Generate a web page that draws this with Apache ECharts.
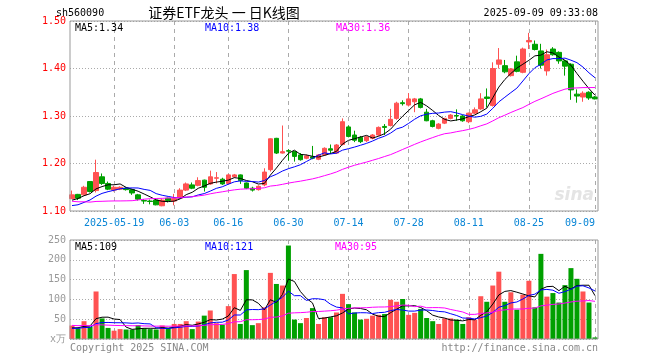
<!DOCTYPE html>
<html><head><meta charset="utf-8">
<script src="https://cdn.jsdelivr.net/npm/echarts@6/dist/echarts.min.js"></script>
<style>html,body{margin:0;padding:0;background:#fff}#c{width:660px;height:360px}</style>
</head><body><div id="c"></div>
<script>
const dates = ['2025-05-08','2025-05-09','2025-05-12','2025-05-13','2025-05-14','2025-05-15','2025-05-16','2025-05-19','2025-05-20','2025-05-21','2025-05-22','2025-05-23','2025-05-26','2025-05-27','2025-05-28','2025-05-29','2025-05-30',
'2025-06-03','2025-06-04','2025-06-05','2025-06-06','2025-06-09','2025-06-10','2025-06-11','2025-06-12','2025-06-13','2025-06-16','2025-06-17','2025-06-18','2025-06-19','2025-06-20','2025-06-23','2025-06-24','2025-06-25','2025-06-26','2025-06-27','2025-06-30',
'2025-07-01','2025-07-02','2025-07-03','2025-07-04','2025-07-07','2025-07-08','2025-07-09','2025-07-10','2025-07-11','2025-07-14','2025-07-15','2025-07-16','2025-07-17','2025-07-18','2025-07-21','2025-07-22','2025-07-23','2025-07-24','2025-07-25','2025-07-28','2025-07-29','2025-07-30','2025-07-31',
'2025-08-01','2025-08-04','2025-08-05','2025-08-06','2025-08-07','2025-08-08','2025-08-11','2025-08-12','2025-08-13','2025-08-14','2025-08-15','2025-08-18','2025-08-19','2025-08-20','2025-08-21','2025-08-22','2025-08-25','2025-08-26','2025-08-27','2025-08-28','2025-08-29',
'2025-09-01','2025-09-02','2025-09-03','2025-09-04','2025-09-05','2025-09-08','2025-09-09'];

const open  = [1.126,1.135,1.134,1.162,1.143,1.172,1.158,1.144,1.146,1.148,1.145,1.134,1.122,1.121,1.123,1.111,1.127,1.121,1.127,1.144,1.155,1.154,1.165,1.157,1.169,1.167,1.158,1.172,1.176,1.159,1.148,1.145,1.155,1.187,1.253,1.222,1.227,1.225,1.218,1.211,1.214,1.209,1.218,1.231,1.222,1.240,1.277,1.260,1.255,1.248,1.253,1.260,1.278,1.280,1.295,1.328,1.323,1.330,1.336,1.308,1.290,1.274,1.285,1.295,1.301,1.300,1.288,1.306,1.315,1.340,1.322,1.409,1.406,1.385,1.414,1.392,1.456,1.451,1.437,1.395,1.441,1.434,1.416,1.409,1.346,1.340,1.350,1.340];
const close = [1.134,1.127,1.150,1.141,1.181,1.158,1.146,1.150,1.150,1.145,1.138,1.125,1.121,1.120,1.113,1.123,1.122,1.126,1.144,1.157,1.148,1.164,1.150,1.172,1.170,1.157,1.176,1.176,1.164,1.148,1.144,1.152,1.182,1.252,1.222,1.225,1.226,1.215,1.208,1.216,1.211,1.218,1.232,1.228,1.239,1.288,1.257,1.249,1.246,1.256,1.260,1.276,1.276,1.293,1.327,1.326,1.336,1.336,1.318,1.290,1.278,1.283,1.295,1.302,1.300,1.290,1.306,1.313,1.336,1.337,1.400,1.418,1.393,1.399,1.394,1.441,1.459,1.440,1.407,1.429,1.429,1.416,1.405,1.355,1.342,1.348,1.338,1.336];
const low   = [1.125,1.123,1.133,1.139,1.139,1.155,1.144,1.141,1.144,1.143,1.134,1.122,1.115,1.114,1.112,1.110,1.118,1.112,1.125,1.142,1.146,1.152,1.141,1.155,1.158,1.155,1.157,1.170,1.157,1.146,1.141,1.143,1.152,1.183,1.220,1.221,1.206,1.204,1.206,1.209,1.209,1.207,1.216,1.220,1.220,1.238,1.255,1.245,1.243,1.245,1.251,1.258,1.260,1.278,1.292,1.322,1.320,1.308,1.316,1.289,1.276,1.272,1.283,1.293,1.290,1.288,1.285,1.304,1.313,1.318,1.320,1.400,1.390,1.383,1.392,1.390,1.441,1.438,1.400,1.385,1.427,1.410,1.385,1.334,1.328,1.330,1.334,1.335];
const high  = [1.143,1.136,1.153,1.163,1.208,1.179,1.162,1.153,1.152,1.150,1.146,1.136,1.125,1.124,1.124,1.126,1.128,1.136,1.148,1.160,1.160,1.171,1.166,1.185,1.182,1.170,1.178,1.178,1.177,1.160,1.151,1.154,1.190,1.253,1.254,1.280,1.230,1.226,1.222,1.219,1.237,1.220,1.234,1.240,1.241,1.295,1.280,1.269,1.258,1.258,1.262,1.278,1.283,1.315,1.330,1.333,1.348,1.338,1.338,1.315,1.292,1.285,1.296,1.304,1.314,1.302,1.307,1.318,1.348,1.358,1.413,1.443,1.418,1.401,1.427,1.444,1.475,1.459,1.452,1.440,1.445,1.436,1.418,1.411,1.356,1.352,1.352,1.342];
const volume = [34,27,45,31,120,52,28,21,25,24,24,35,27,25,24,34,27,38,38,45,25,44,59,72,40,36,83,164,38,174,35,40,80,167,139,135,236,49,40,53,78,38,55,55,67,114,88,67,49,51,59,61,63,99,94,101,61,66,76,53,45,38,52,52,49,38,55,49,108,94,135,170,94,118,74,112,147,80,215,107,116,92,136,179,152,120,92,4];

// 29 sessions before the first shown day (only feed the moving averages)
const priorCloses = [1.16,1.15,1.16,1.14,1.15,1.13,1.14,1.15,1.14,1.13,1.08,1.07,1.09,1.10,1.11,1.10,1.12,1.12,1.13,1.13,1.11,1.10,1.09,1.10,1.10,1.11,1.12,1.12,1.13];
const priorVolumes = [45,40,38,52,60,48,42,35,33,30,36,40,34,32,30,35,38,33,30,29,28,25,27,24,26,25,28,26,27];

const labelDates = ['2025-05-19','2025-06-03','2025-06-16','2025-06-30','2025-07-14','2025-07-28','2025-08-11','2025-08-25','2025-09-09'];
const priceMin = 1.10, priceMax = 1.50, priceStep = 0.10;
const volMin = 0, volMax = 250, volStep = 50;

function ma(prior, vals, n) {
  const all = prior.concat(vals);
  return vals.map((_, i) => {
    const j = prior.length + i; let s = 0;
    for (let k = j - n + 1; k <= j; k++) s += all[k];
    return +(s / n).toFixed(4);
  });
}
const ma5 = ma(priorCloses, close, 5), ma10 = ma(priorCloses, close, 10), ma30 = ma(priorCloses, close, 30);
const vma5 = ma(priorVolumes, volume, 5), vma10 = ma(priorVolumes, volume, 10), vma30 = ma(priorVolumes, volume, 30);
const last = a => a[a.length - 1];

const UP = '#ff5252', DOWN = '#00a000';
const MONO = '"DejaVu Sans Mono", monospace';
const labelSet = new Set(labelDates);
const FL = 70, FW = 528, DL = 72, DW = 523;
const PT = 21, PH = 190, VT = 240, VH = 99;

const chart = echarts.init(document.getElementById('c'), null, {renderer: 'canvas'});
const vline = {show: true, interval: (i, v) => labelSet.has(v), lineStyle: {color: '#aaa', type: [4, 4], width: 1}};
const hline = {show: true, lineStyle: {color: '#aaa', type: [1, 2], width: 1}};

chart.setOption({
  animation: false,
  backgroundColor: '#fff',
  grid: [
    {left: FL, top: PT, width: FW, height: PH, show: true, borderColor: '#999', borderWidth: 1, backgroundColor: 'transparent', z: 5},
    {left: DL, top: PT, width: DW, height: PH},
    {left: FL, top: VT, width: FW, height: VH, show: true, borderColor: '#999', borderWidth: 1, backgroundColor: 'transparent', z: 5},
    {left: DL, top: VT, width: DW, height: VH}
  ],
  xAxis: [
    {gridIndex: 0, type: 'value', min: 0, max: 1, show: false},
    {gridIndex: 1, type: 'category', data: dates, boundaryGap: false,
      axisLine: {show: false}, axisTick: {show: false}, splitLine: vline,
      axisLabel: {interval: (i, v) => labelSet.has(v), margin: 7, color: '#0a86d6', fontFamily: MONO, fontSize: 10,
        formatter: v => v === labelDates[0] ? v : (v === last(labelDates) ? '{e|' + v.slice(5) + '}' : v.slice(5)),
        rich: {e: {padding: [0, 30, 0, 0], color: '#0a86d6', fontFamily: MONO, fontSize: 10}}}},
    {gridIndex: 2, type: 'value', min: 0, max: 1, show: false},
    {gridIndex: 3, type: 'category', data: dates, boundaryGap: false,
      axisLine: {show: false}, axisTick: {show: false}, axisLabel: {show: false}, splitLine: vline}
  ],
  yAxis: [
    {gridIndex: 0, type: 'value', min: priceMin, max: priceMax, interval: priceStep,
      axisLine: {show: false}, axisTick: {show: false}, splitLine: hline,
      axisLabel: {color: '#ff0000', fontFamily: MONO, fontSize: 10, margin: 4, formatter: v => v.toFixed(2)}},
    {gridIndex: 1, type: 'value', min: priceMin, max: priceMax, show: false, splitLine: {show: false}},
    {gridIndex: 2, type: 'value', min: volMin, max: volMax, interval: volStep,
      axisLine: {show: false}, axisTick: {show: false}, splitLine: hline,
      axisLabel: {color: '#999', fontFamily: MONO, fontSize: 10, margin: 4, formatter: v => v === 0 ? 'x万' : String(v)}},
    {gridIndex: 3, type: 'value', min: volMin, max: volMax, show: false, splitLine: {show: false}}
  ],
  series: [
    {type: 'candlestick', xAxisIndex: 1, yAxisIndex: 1, barWidth: 5,
      data: dates.map((d, i) => [open[i], close[i], low[i], high[i]]),
      itemStyle: {color: UP, color0: DOWN, borderColor: UP, borderColor0: DOWN, borderWidth: 1}},
    {type: 'line', xAxisIndex: 1, yAxisIndex: 1, data: ma5, showSymbol: false, lineStyle: {color: '#000', width: 1}, z: 4},
    {type: 'line', xAxisIndex: 1, yAxisIndex: 1, data: ma10, showSymbol: false, lineStyle: {color: '#0000ff', width: 1}, z: 4},
    {type: 'line', xAxisIndex: 1, yAxisIndex: 1, data: ma30, showSymbol: false, lineStyle: {color: '#ff00ff', width: 1}, z: 4},
    {type: 'bar', xAxisIndex: 3, yAxisIndex: 3, barWidth: 5,
      data: volume.map((v, i) => ({value: v, itemStyle: {color: close[i] >= open[i] ? UP : DOWN}}))},
    {type: 'line', xAxisIndex: 3, yAxisIndex: 3, data: vma5, showSymbol: false, lineStyle: {color: '#000', width: 1}, z: 4},
    {type: 'line', xAxisIndex: 3, yAxisIndex: 3, data: vma10, showSymbol: false, lineStyle: {color: '#0000ff', width: 1}, z: 4},
    {type: 'line', xAxisIndex: 3, yAxisIndex: 3, data: vma30, showSymbol: false, lineStyle: {color: '#ff00ff', width: 1}, z: 4}
  ],
  graphic: [
    {type: 'text', x: 56, y: 13, style: {text: 'sh560090', font: '10px ' + MONO, fill: '#000', verticalAlign: 'middle'}},
    {type: 'text', x: 224, y: 13, style: {text: '证券ETF龙头 一 日K线图', font: '14px "Noto Sans CJK SC"', fill: '#000', align: 'center', verticalAlign: 'middle'}},
    {type: 'text', x: 598, y: 13, style: {text: '2025-09-09 09:33:08', font: '10px ' + MONO, fill: '#000', align: 'right', verticalAlign: 'middle'}},
    {type: 'text', x: 75, y: 28, z: 20, style: {text: 'MA5:' + last(ma5).toFixed(2), font: '10px ' + MONO, fill: '#000', verticalAlign: 'middle'}},
    {type: 'text', x: 205, y: 28, z: 20, style: {text: 'MA10:' + last(ma10).toFixed(2), font: '10px ' + MONO, fill: '#0000ff', verticalAlign: 'middle'}},
    {type: 'text', x: 336, y: 28, z: 20, style: {text: 'MA30:' + last(ma30).toFixed(2), font: '10px ' + MONO, fill: '#ff00ff', verticalAlign: 'middle'}},
    {type: 'text', x: 75, y: 247, z: 20, style: {text: 'MA5:' + Math.round(last(vma5)), font: '10px ' + MONO, fill: '#000', verticalAlign: 'middle'}},
    {type: 'text', x: 205, y: 247, z: 20, style: {text: 'MA10:' + Math.round(last(vma10)), font: '10px ' + MONO, fill: '#0000ff', verticalAlign: 'middle'}},
    {type: 'text', x: 335, y: 247, z: 20, style: {text: 'MA30:' + Math.round(last(vma30)), font: '10px ' + MONO, fill: '#ff00ff', verticalAlign: 'middle'}},
    {type: 'text', x: 70, y: 348, style: {text: 'Copyright 2025 SINA.COM', font: '10px ' + MONO, fill: '#888', verticalAlign: 'middle'}},
    {type: 'text', x: 598, y: 348, style: {text: 'http://finance.sina.com.cn', font: '10px ' + MONO, fill: '#888', align: 'right', verticalAlign: 'middle'}},
    {type: 'text', x: 594, y: 196, z: 1, style: {text: 'sina', font: 'italic bold 17px "DejaVu Sans"', fill: '#e4e4e4', align: 'right', verticalAlign: 'middle'}}
  ]
});
</script></body></html>
